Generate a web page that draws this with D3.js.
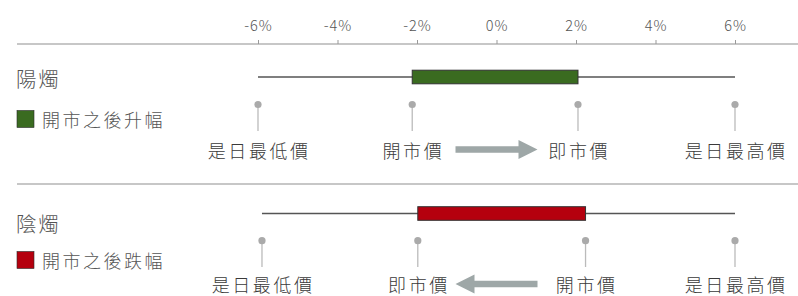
<!DOCTYPE html>
<html>
<head>
<meta charset="utf-8">
<script src="https://cdn.jsdelivr.net/npm/d3@7/dist/d3.min.js"></script>
<style>
  html, body { margin: 0; padding: 0; background: #fff; }
  svg { display: block; }
  text { font-family: "Noto Sans CJK TC", "Noto Sans", sans-serif; font-weight: 300; }
</style>
</head>
<body>
<svg id="chart" width="798" height="296"></svg>
<script>
// ---- data ----
const tickValues = [-6, -4, -2, 0, 2, 4, 6];
const candleNames = ["陽燭", "陰燭"];
const legendLabels = ["開市之後升幅", "開市之後跌幅"];
const candleColors = ["#3a6b20", "#b5000e"];
const lowVals = [-6.0, -5.9];
const openVals = [-2.12, 2.24];
const closeVals = [2.05, -1.98];
const highVals = [6.0, 6.0];
const lowLabel = "是日最低價";
const openLabel = "開市價";
const closeLabel = "即市價";
const highLabel = "是日最高價";

const svg = d3.select("#chart");
const x = d3.scaleLinear().domain([-6, 6]).range([258, 735]);

// top axis
const axisY = 44;
svg.append("line").attr("x1", 17).attr("x2", 798).attr("y1", axisY).attr("y2", axisY)
  .attr("stroke", "#b4b4b4").attr("stroke-width", 1.5);
const axis = svg.append("g").attr("transform", `translate(0,${axisY})`)
  .call(d3.axisTop(x).tickValues(tickValues).tickSize(4).tickPadding(9)
    .tickFormat(d => d + "%"));
axis.select(".domain").remove();
axis.selectAll(".tick line").attr("stroke", "#999");
axis.selectAll(".tick text").attr("fill", "#555").attr("font-size", "14.5px")
  .style("letter-spacing", "1px").attr("font-family", "'Open Sans', sans-serif");

// separator
svg.append("line").attr("x1", 17).attr("x2", 798).attr("y1", 184).attr("y2", 184)
  .attr("stroke", "#b4b4b4").attr("stroke-width", 1.5);

const rows = [
  { wy: 77, titleY: 77.5, legY: 119, pinY: 104.5, pinEnd: 131, labY: 149.5 },
  { wy: 213.5, titleY: 223, legY: 260, pinY: 240.7, pinEnd: 267, labY: 284 }
];

rows.forEach((r, i) => {
  const g = svg.append("g");
  // title
  g.append("text").attr("x", 16).attr("y", r.titleY).attr("dominant-baseline", "central")
    .attr("font-size", "20.5px").style("letter-spacing", "2px").attr("fill", "#555")
    .text(candleNames[i]);
  // legend
  g.append("rect").attr("x", 17).attr("y", r.legY - 8.5).attr("width", 17).attr("height", 17)
    .attr("fill", candleColors[i]).attr("stroke", "#2a2a2a").attr("stroke-width", 0.6);
  g.append("text").attr("x", 42).attr("y", r.legY).attr("dominant-baseline", "central")
    .attr("font-size", "18px").style("letter-spacing", "2.5px").attr("fill", "#555")
    .text(legendLabels[i]);
  // whisker
  g.append("line").attr("x1", x(lowVals[i])).attr("x2", x(highVals[i]))
    .attr("y1", r.wy).attr("y2", r.wy).attr("stroke", "#555").attr("stroke-width", 1.5);
  // body
  const bx0 = x(Math.min(openVals[i], closeVals[i]));
  const bx1 = x(Math.max(openVals[i], closeVals[i]));
  g.append("rect").attr("x", bx0).attr("y", r.wy - 6.8).attr("width", bx1 - bx0).attr("height", 13.6)
    .attr("fill", candleColors[i]).attr("stroke", "#333").attr("stroke-width", 1);
  // pins + labels
  const pins = [
    { v: lowVals[i], t: lowLabel },
    { v: openVals[i], t: openLabel },
    { v: closeVals[i], t: closeLabel },
    { v: highVals[i], t: highLabel }
  ];
  pins.forEach(p => {
    const px = x(p.v);
    g.append("line").attr("x1", px).attr("x2", px).attr("y1", r.pinY).attr("y2", r.pinEnd)
      .attr("stroke", "#bbb").attr("stroke-width", 1.3);
    g.append("circle").attr("cx", px).attr("cy", r.pinY).attr("r", 3.6).attr("fill", "#aaa");
    g.append("text").attr("x", px + 1.2).attr("y", r.labY).attr("dominant-baseline", "central")
      .attr("text-anchor", "middle").attr("font-size", "18px").style("letter-spacing", "2.6px")
      .attr("fill", "#3a3a3a").text(p.t);
  });
  // arrow
  const cx = x(0);
  const dir = closeVals[i] > openVals[i] ? 1 : -1;
  const half = 41, headLen = 19, shaft = 3.2, headH = 9.5;
  const tail = cx - dir * half, tip = cx + dir * half, base = tip - dir * headLen;
  const y = r.labY;
  const pts = [
    [tail, y - shaft], [base, y - shaft], [base, y - headH], [tip, y],
    [base, y + headH], [base, y + shaft], [tail, y + shaft]
  ];
  g.append("path").attr("d", d3.line()(pts) + "Z").attr("fill", "#9ea7a7");
});
</script>
</body>
</html>
